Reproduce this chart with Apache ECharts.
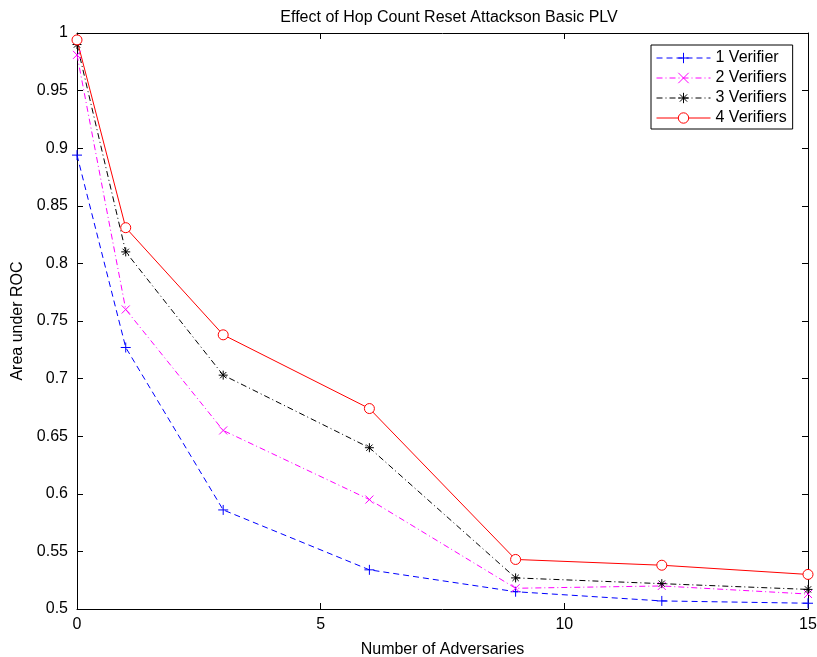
<!DOCTYPE html>
<html>
<head>
<meta charset="utf-8">
<script src="https://cdn.jsdelivr.net/npm/echarts@6/dist/echarts.min.js"></script>
<style>html,body{margin:0;padding:0;background:#fff;}#c{width:817px;height:657px;}</style>
</head>
<body>
<div id="c"></div>
<script>
const adversaries = [0, 1, 3, 6, 9, 12, 15];
const verifier1 = [0.894, 0.727, 0.586, 0.534, 0.515, 0.507, 0.505];
const verifier2 = [0.981, 0.760, 0.655, 0.595, 0.518, 0.520, 0.513];
const verifier3 = [0.990, 0.810, 0.703, 0.640, 0.527, 0.522, 0.517];
const verifier4 = [0.994, 0.831, 0.738, 0.674, 0.543, 0.538, 0.530];
const seriesNames = ['1 Verifier', '2 Verifiers', '3 Verifiers', '4 Verifiers'];
const xTicks = [0, 5, 10, 15];
const yTicks = [0.5, 0.55, 0.6, 0.65, 0.7, 0.75, 0.8, 0.85, 0.9, 0.95, 1];

const FONT = 'Liberation Sans';
const FS = 16;
const plusPath = 'path://M5,0L5,10M0,5L10,5';
const crossPath = 'path://M0,0L10,10M0,10L10,0';
const starPath = 'path://M5,0L5,10M0,5L10,5M1.5,1.5L8.5,8.5M1.5,8.5L8.5,1.5';

function pairs(ys) { return adversaries.map((x, i) => [x, ys[i]]); }

function mk(name, ys, color, dash, symbol, size, fill) {
  return {
    name: name, type: 'line', data: pairs(ys),
    symbol: symbol, symbolSize: size, showAllSymbol: true,
    lineStyle: { color: color, width: 1, type: dash },
    itemStyle: { color: fill || color, borderColor: color, borderWidth: 1 },
    emphasis: { disabled: true }, animation: false, z: 3
  };
}

const chart = echarts.init(document.getElementById('c'));
const axisCommon = {
  axisLine: { show: true, onZero: false, lineStyle: { color: '#000', width: 1 } },
  axisTick: { show: true, inside: true, length: 6, lineStyle: { color: '#000' } },
  splitLine: { show: false }
};
chart.setOption({
  animation: false,
  backgroundColor: '#fff',
  textStyle: { fontFamily: FONT, color: '#000' },
  title: {
    text: 'Effect of Hop Count Reset Attackson Basic PLV',
    left: 444, top: 5, textAlign: 'center',
    textStyle: { fontFamily: FONT, fontSize: FS, fontWeight: 'normal', color: '#000' }
  },
  grid: { left: 77, right: 9, top: 33, bottom: 48, outerBoundsMode: 'none', containLabel: false },
  legend: {
    orient: 'vertical', left: 651, top: 45,
    data: seriesNames,
    itemWidth: 54, itemHeight: 13, itemGap: 4,
    padding: [5, 6, 3, 5],
    borderColor: '#000', borderWidth: 1, backgroundColor: '#fff',
    lineStyle: { width: 1 },
    itemStyle: { borderWidth: 1 },
    textStyle: { fontFamily: FONT, fontSize: FS, color: '#000' }
  },
  xAxis: [
    Object.assign({
      type: 'value', min: 0, max: 15, interval: 5, position: 'bottom',
      name: 'Number of Adversaries', nameLocation: 'middle', nameGap: 33,
      nameTextStyle: { fontFamily: FONT, fontSize: FS, color: '#000' },
      axisLabel: { fontFamily: FONT, fontSize: FS, color: '#000', margin: 8,
        formatter: v => xTicks.includes(v) ? String(v) : '' }
    }, axisCommon),
    Object.assign({
      type: 'value', min: 0, max: 15, interval: 5, position: 'top',
      axisLabel: { show: false }
    }, axisCommon)
  ],
  yAxis: [
    Object.assign({
      type: 'value', min: 0.5, max: 1, interval: 0.05, position: 'left',
      name: 'Area under ROC', nameLocation: 'middle', nameGap: 50,
      nameTextStyle: { fontFamily: FONT, fontSize: FS, color: '#000' },
      axisLabel: { fontFamily: FONT, fontSize: FS, color: '#000', margin: 9,
        formatter: v => { const r = parseFloat(v.toFixed(2)); return yTicks.some(t => Math.abs(t - r) < 1e-9) ? String(r) : ''; } }
    }, axisCommon),
    Object.assign({
      type: 'value', min: 0.5, max: 1, interval: 0.05, position: 'right',
      axisLabel: { show: false }
    }, axisCommon)
  ],
  series: [
    mk(seriesNames[0], verifier1, '#0000ff', [6, 4], plusPath, 10),
    mk(seriesNames[1], verifier2, '#ff00ff', [6, 3, 1, 3], crossPath, 8),
    mk(seriesNames[2], verifier3, '#000000', [6, 3, 1, 3], starPath, 9),
    mk(seriesNames[3], verifier4, '#ff0000', 'solid', 'circle', 10, '#ffffff')
  ]
});
</script>
</body>
</html>
